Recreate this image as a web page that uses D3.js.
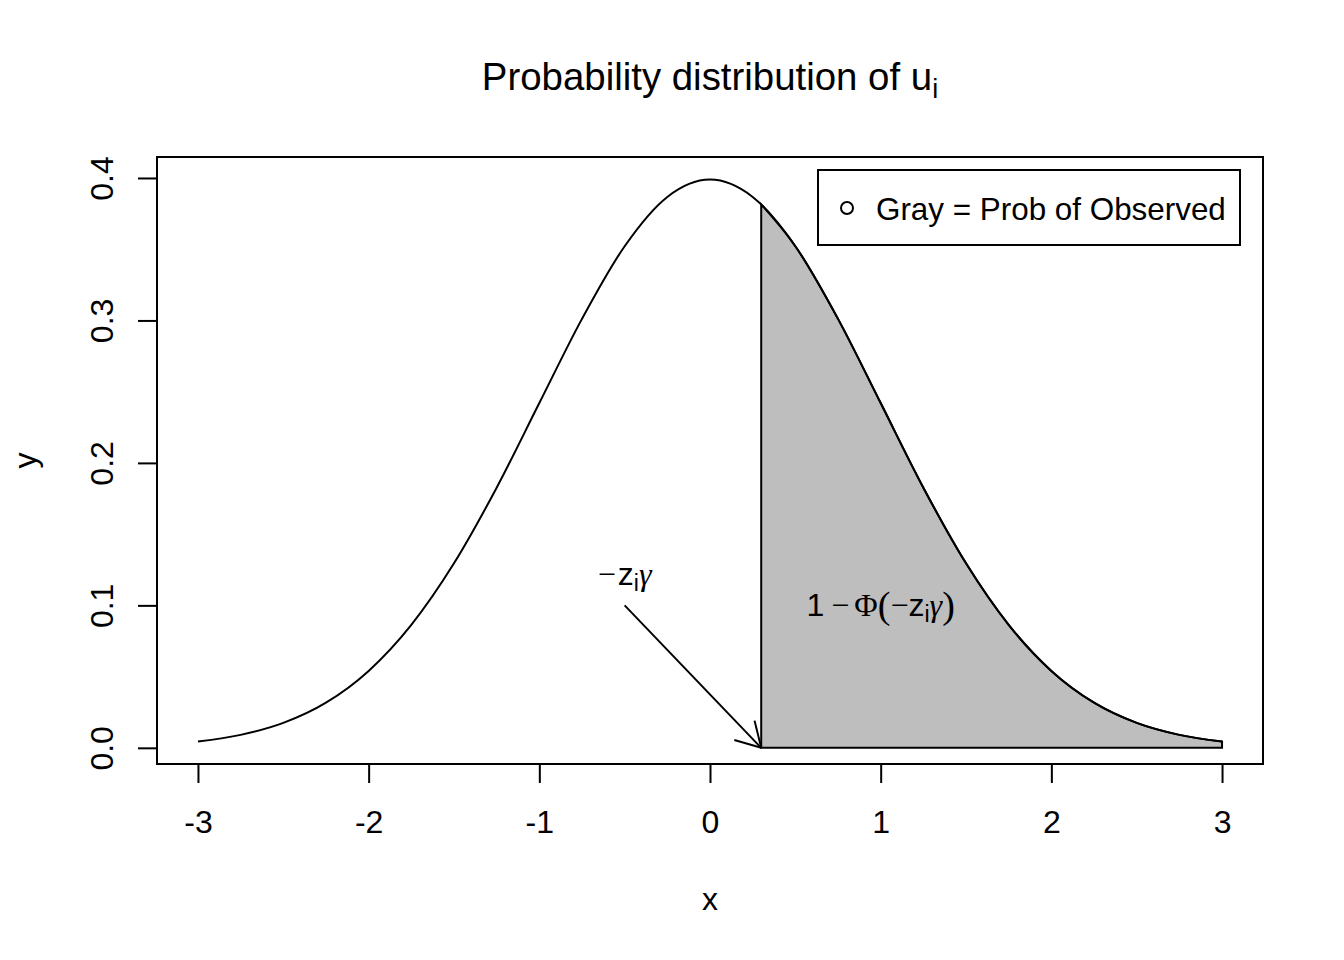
<!DOCTYPE html>
<html><head><meta charset="utf-8">
<script src="https://cdn.jsdelivr.net/npm/d3@7"></script>
<style>body{margin:0;background:#fff}svg{display:block}text{font-family:"Liberation Sans",Arial,sans-serif}</style>
</head><body>
<script>
// density curve
const curveX = [-3,-2.75,-2.5,-2.25,-2,-1.75,-1.5,-1.25,-1,-0.75,-0.5,-0.25,0,0.25,0.5,0.75,1,1.25,1.5,1.75,2,2.25,2.5,2.75,3];
const curveY = [0.0044,0.0091,0.0175,0.0317,0.0540,0.0863,0.1295,0.1826,0.2420,0.3011,0.3521,0.3867,0.3989,0.3867,0.3521,0.3011,0.2420,0.1826,0.1295,0.0863,0.0540,0.0317,0.0175,0.0091,0.0044];
const cutX = 0.3, cutY = 0.3814;
const xTicks = [-3,-2,-1,0,1,2,3];
const yTicks = [0.0,0.1,0.2,0.3,0.4];
const arrowFrom = [-0.5, 0.1], arrowTo = [0.3, 0];
const labelZ = [-0.5, 0.12], labelPhi = [1.0, 0.1];

const W=1344,H=960;
const svg=d3.select("body").append("svg").attr("width",W).attr("height",H);
const L=157,R=1263,T=157,B=764;
const x=d3.scaleLinear().domain([-3.24,3.24]).range([L,R]);
const y=d3.scaleLinear().domain([-0.01135,0.41472]).range([B,T]);
const SW=2;

const pts=curveX.map((v,i)=>[v,curveY[i]]);
const line=d3.line().x(d=>x(d[0])).y(d=>y(d[1])).curve(d3.curveMonotoneX);

// shaded polygon
const shadeTop=[[cutX,cutY]].concat(pts.filter(d=>d[0]>cutX));
svg.append("path").attr("d",line(shadeTop)+"L"+x(3)+","+y(0)+"L"+x(cutX)+","+y(0)+"Z")
  .attr("fill","#bebebe").attr("stroke","#000").attr("stroke-width",SW);

svg.append("path").attr("d",line(pts)).attr("fill","none").attr("stroke","#000").attr("stroke-width",SW);

// box
svg.append("rect").attr("x",L).attr("y",T).attr("width",R-L).attr("height",B-T).attr("fill","none").attr("stroke","#000").attr("stroke-width",SW);

// x axis
const xa=svg.append("g").attr("transform",`translate(0,${B})`)
  .call(d3.axisBottom(x).tickValues(xTicks).tickSize(19).tickFormat(d3.format("d")));
xa.select(".domain").attr("d",`M${x(-3)},0H${x(3)}`).attr("stroke-width",SW);
xa.selectAll("line").attr("stroke-width",SW);
xa.selectAll("text").attr("font-size",32).attr("font-family","Liberation Sans, Arial, sans-serif")
  .attr("y",69).attr("dy",null).text(d=>d<0?"-"+Math.abs(d):d);

// y axis
const ya=svg.append("g").attr("transform",`translate(${L},0)`)
  .call(d3.axisLeft(y).tickValues(yTicks).tickSize(19).tickFormat(d3.format(".1f")));
ya.select(".domain").attr("d",`M0,${y(0)}V${y(0.4)}`).attr("stroke-width",SW);
ya.selectAll("line").attr("stroke-width",SW);
ya.selectAll("text").attr("font-size",32).attr("font-family","Liberation Sans, Arial, sans-serif")
  .attr("x",0).attr("y",0).attr("dy",null).attr("text-anchor","middle")
  .attr("transform","translate(-44,0) rotate(-90)");

// axis titles
svg.append("text").attr("x",x(0)).attr("y",910).attr("text-anchor","middle").attr("font-size",32).text("x");
svg.append("text").attr("transform",`translate(36,${(T+B)/2}) rotate(-90)`).attr("text-anchor","middle").attr("font-size",32).text("y");

// title
const tt=svg.append("text").attr("x",x(0)).attr("y",90).attr("text-anchor","middle").attr("font-size",38.4);
tt.append("tspan").text("Probability distribution of u");
tt.append("tspan").attr("font-size",27).attr("dy",8).text("i");

// arrow
const ax0=x(arrowFrom[0]),ay0=y(arrowFrom[1]),ax1=x(arrowTo[0]),ay1=y(arrowTo[1]);
svg.append("line").attr("x1",ax0).attr("y1",ay0).attr("x2",ax1).attr("y2",ay1).attr("stroke","#000").attr("stroke-width",SW);
const ang=Math.atan2(ay1-ay0,ax1-ax0), hl=28, ha=Math.PI/6;
[ang+ha,ang-ha].forEach(a=>{
  svg.append("line").attr("x1",ax1).attr("y1",ay1).attr("x2",ax1-hl*Math.cos(a)).attr("y2",ay1-hl*Math.sin(a)).attr("stroke","#000").attr("stroke-width",SW);
});

const SERIF="Liberation Serif, DejaVu Serif, serif";
// label -z_i gamma
const lz=svg.append("text").attr("x",x(labelZ[0])).attr("y",y(labelZ[1])+8).attr("text-anchor","middle").attr("font-size",32);
lz.append("tspan").attr("font-family",SERIF).text("\u2212");
lz.append("tspan").attr("dx",2).text("z");
lz.append("tspan").attr("font-size",23).attr("dy",6).text("i");
lz.append("tspan").attr("dy",-6).attr("font-family",SERIF).attr("font-style","italic").text("\u03B3");

// label 1 - Phi(-z_i gamma)
const lp=svg.append("text").attr("x",x(labelPhi[0])).attr("y",y(labelPhi[1])+11).attr("text-anchor","middle").attr("font-size",32);
lp.append("tspan").text("1");
lp.append("tspan").attr("dx",7).attr("font-family",SERIF).text("\u2212");
lp.append("tspan").attr("dx",5).attr("font-family",SERIF).text("\u03A6");
lp.append("tspan").attr("font-family",SERIF).attr("font-size",38).attr("dy",2).text("(");
lp.append("tspan").attr("font-family",SERIF).attr("dy",-2).text("\u2212");
lp.append("tspan").text("z");
lp.append("tspan").attr("font-size",23).attr("dy",6).text("i");
lp.append("tspan").attr("dy",-6).attr("font-family",SERIF).attr("font-style","italic").text("\u03B3");
lp.append("tspan").attr("font-family",SERIF).attr("font-size",38).attr("dy",2).text(")");

// legend
svg.append("rect").attr("x",818).attr("y",170).attr("width",422).attr("height",75).attr("fill","#fff").attr("stroke","#000").attr("stroke-width",SW);
svg.append("circle").attr("cx",847).attr("cy",208).attr("r",6).attr("fill","none").attr("stroke","#000").attr("stroke-width",SW);
svg.append("text").attr("x",876).attr("y",220).attr("font-size",31.4).text("Gray = Prob of Observed");
</script>
</body></html>
